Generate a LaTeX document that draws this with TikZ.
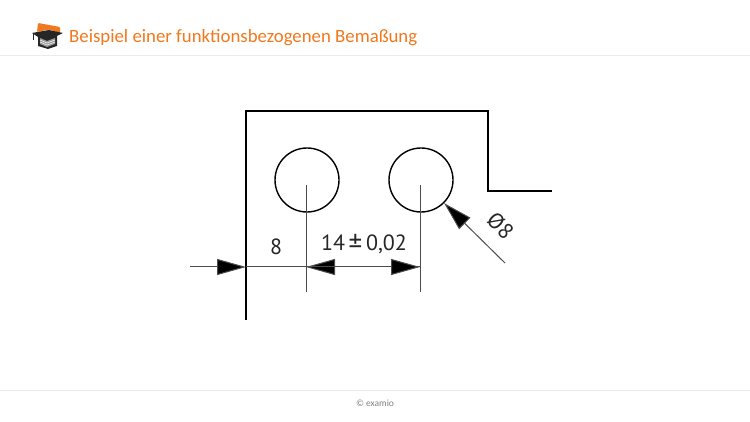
\documentclass[tikz,border=0pt]{standalone}
\usepackage{fontspec}
\setmainfont{Carlito}
\newfontfamily\dimfont{PT Sans}
\usetikzlibrary{arrows.meta}
\definecolor{examioorange}{RGB}{240,120,30}
\definecolor{rulegrey}{RGB}{235,235,235}
\tikzset{
body/.style={draw=black,line width=1.5pt},
hole/.style={circle,draw=black,line width=1.4pt,minimum size=64pt,inner sep=0pt},
thinline/.style={draw=black!70,line width=1pt},
dimarrow/.style={thinline,-{Triangle[length=29pt,width=16pt,fill=black]}},
dimlabel/.style={font=\dimfont\fontsize{22}{22}\selectfont,text=black!85,inner sep=0pt},
title/.style={font=\fontsize{18.8}{20}\selectfont,text=examioorange,anchor=west,inner sep=0pt},
footer/.style={font=\fontsize{9.5}{10}\selectfont,text=black!50,inner sep=0pt}
}
\begin{document}
\begin{tikzpicture}[x=1pt,y=-1pt]
\useasboundingbox (0,0) rectangle (750,422);

% header and footer
\draw[rulegrey] (0,55.5) -- (750,55.5);
\draw[rulegrey] (0,390.5) -- (750,390.5);
\node[title] (head) at (69,38) {Beispiel einer funktionsbezogenen Bemaßung};
\node[footer] (foot) at (375,403) {© examio};

% the logo
\fill[examioorange,rounded corners=1pt] (37,32) -- (38,23) -- (60,27) -- (60,33) -- (49,29.5) -- cycle;
\fill[black!85] (32,33) -- (49,30) -- (63,33) -- (57,36) -- (57,46) -- (48,49) -- (38,46) -- (38,37) -- cycle;
\fill[black!40] (40,38) -- (47,41) -- (55,38) -- (55,44) -- (47,47) -- (40,44) -- cycle;
\draw[white,line width=0.5pt] (40,40) -- (47,43) -- (55,40) (40,42) -- (47,45) -- (55,42);
\draw[black!85,line width=1pt] (33,33) -- (33,40);

% the part
\coordinate (c1) at (246,320);
\coordinate (c2) at (246,111);
\coordinate (c3) at (488,111);
\coordinate (c4) at (488,190.9);
\coordinate (c5) at (552,190.9);
\draw[body] (c1) -- (c2) -- (c3) -- (c4) -- (c5);

\node[hole] (h1) at (307,180) {};
\node[hole] (h2) at (421,180) {};

% center lines
\coordinate (m1) at (306,185);
\coordinate (m2) at (420,185);
\coordinate (n1) at (306,292);
\coordinate (n2) at (420,292);
\draw[thinline] (m1) -- (n1);
\draw[thinline] (m2) -- (n2);

% dimension lines
\coordinate (d0) at (190,267);
\coordinate (d1) at (246,267);
\coordinate (d2) at (306,267);
\coordinate (d3) at (420,267);
\coordinate (d4) at (505,263);
\draw[dimarrow] (d0) -- (d1);
\draw[thinline] (d1) -- (d2);
\draw[dimarrow] (d3) -- (d2);
\draw[dimarrow] (d2) -- (d3);
\draw[dimarrow] (d4) -- (h2.-45);

\node[dimlabel] (l1) at (276,246.5) {8};
\node[dimlabel] (l2) at (364,244) {14\,\raisebox{-2pt}{\fontsize{27}{27}\selectfont ±}\,0,02};
\node[dimlabel,rotate=-45] (l3) at (500.5,226) {Ø8};
\end{tikzpicture}
\end{document}
